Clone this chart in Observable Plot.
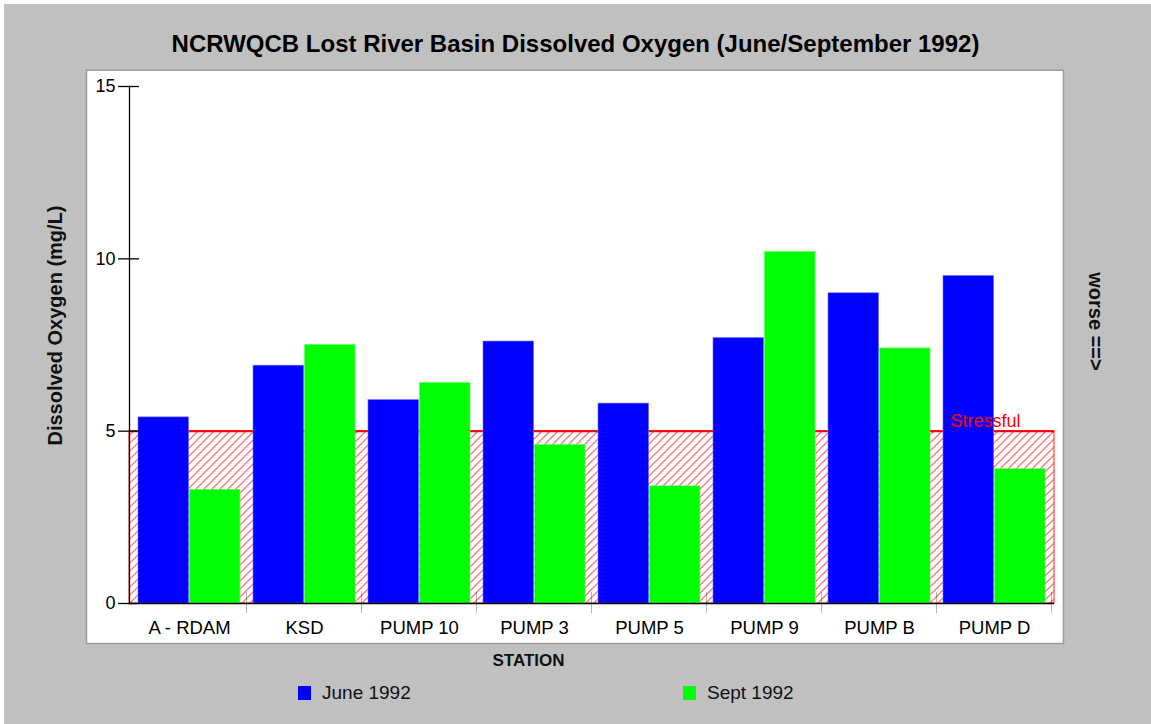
<!DOCTYPE html>
<html>
<head>
<meta charset="utf-8">
<script src="https://cdn.jsdelivr.net/npm/d3@7"></script>
<script src="https://cdn.jsdelivr.net/npm/@observablehq/plot@0.6"></script>
<style>
  html, body { margin: 0; padding: 0; background: #c0c0c0; }
  #wrap { position: relative; width: 1151px; height: 724px; overflow: hidden; background: #c0c0c0;
          font-family: "Liberation Sans", Arial, sans-serif; }
  #edgeTop { position: absolute; left: 0; top: 0; width: 1151px; height: 4px; background: #fff; }
  #edgeLeft { position: absolute; left: 0; top: 0; width: 4px; height: 724px; background: #fff; }
  #title { position: absolute; left: 0; top: 32px; width: 1151px; text-align: center;
           font-weight: bold; font-size: 24px; line-height: 24px; color: #000; }
  #chart { position: absolute; left: 0; top: 69px; }
  #legend { position: absolute; left: 298px; top: 681px; display: flex; }
  .item { width: 385px; display: flex; align-items: center; height: 24px; margin-top: 0px;
          font-size: 19px; color: #111; }
  .sw { width: 13px; height: 14px; margin-right: 11px; }
</style>
</head>
<body>
<div id="wrap">
  <div id="edgeTop"></div>
  <div id="edgeLeft"></div>
  <div id="title"></div>
  <div id="chart"></div>
  <div id="legend"></div>
</div>
<script>
// ---- data ----
const titleText = "NCRWQCB Lost River Basin Dissolved Oxygen (June/September 1992)";
const stations = ["A - RDAM", "KSD", "PUMP 10", "PUMP 3", "PUMP 5", "PUMP 9", "PUMP B", "PUMP D"];
const june1992 = [5.4, 6.9, 5.9, 7.6, 5.8, 7.7, 9.0, 9.5];
const sept1992 = [3.3, 7.5, 6.4, 4.6, 3.4, 10.2, 7.4, 3.9];
const seriesNames = ["June 1992", "Sept 1992"];
const seriesColors = ["#0000ff", "#00ff00"];
const yTicks = [0, 5, 10, 15];
const stressLevel = 5;
const stressLabel = "Stressful";
const yLabel = "Dissolved Oxygen (mg/L)";
const xLabel = "STATION";
const sideLabel = "worse ==>";

// ---- table ----
const rows = stations.flatMap((s, i) => [
  {station: s, series: seriesNames[0], value: june1992[i]},
  {station: s, series: seriesNames[1], value: sept1992[i]}
]);

// ---- layout ----
const W = 1151, H = 612;
const mL = 129, mR = 97, mT = 17, mB = 78;
const padIn = 0.11, padOut = 0.055;
const innerW = W - mL - mR;
const step = innerW / (stations.length - padIn + 2 * padOut);
const bw = step * (1 - padIn);
const gap = step - bw;

const plot = Plot.plot({
  width: W, height: H,
  marginLeft: mL, marginRight: mR, marginTop: mT, marginBottom: mB,
  style: {background: "none", fontFamily: "Liberation Sans, Arial, sans-serif", fontSize: "18px", color: "#000"},
  x: {type: "band", domain: stations, paddingInner: padIn, paddingOuter: padOut, axis: null},
  y: {domain: [0, 15], axis: null},
  color: {domain: seriesNames, range: seriesColors},
  marks: [
    // white panel
    Plot.frame({fill: "white", stroke: "#9a9a9a", strokeWidth: 1.5,
                insetLeft: -43, insetRight: -9, insetTop: -16.25, insetBottom: -40}),
    // stressful zone
    Plot.rect([stressLevel], {y1: 0, y2: d => d, fill: "url(#hatch)", stroke: "#ff2020", strokeWidth: 1}),
    Plot.ruleY([stressLevel], {stroke: "#ff0000", strokeWidth: 2}),
    // bars
    Plot.barY(rows.filter(d => d.series === seriesNames[0]),
      {x: "station", y: "value", fill: "series", insetRight: bw / 2, stroke: "#6a6aff", strokeWidth: 0.6}),
    Plot.barY(rows.filter(d => d.series === seriesNames[1]),
      {x: "station", y: "value", fill: "series", insetLeft: bw / 2, stroke: "#66ff66", strokeWidth: 0.6}),
    // axis lines
    Plot.ruleY([0], {stroke: "black", strokeWidth: 1.3}),
    Plot.frame({anchor: "left", stroke: "black", strokeWidth: 1.3}),
    // category boundary ticks
    Plot.barY(stations, {x: d => d, y1: 0, y2: 0, fill: "black",
      insetLeft: bw + gap / 2 - 0.6, insetRight: -gap / 2 - 0.6, insetTop: -11, insetBottom: -10}),
    // axes
    Plot.axisY({ticks: yTicks, tickSize: 21, dx: 10, tickPadding: 3, fontSize: 18, label: null,
      stroke: "black", strokeWidth: 1.3}),
    Plot.axisX({tickSize: 0, tickPadding: 17, fontSize: 18.5, label: null}),
    // labels
    Plot.text([stressLabel], {frameAnchor: "right", y: () => stressLevel, text: d => d, textAnchor: "start",
      lineAnchor: "bottom", dx: -104, dy: -4, fill: "#ff0000", fontSize: 18}),
    Plot.text([yLabel], {frameAnchor: "left", text: d => d, rotate: -90, textAnchor: "middle",
      dx: -74, dy: -19.5, fontWeight: "bold", fontSize: 20, fill: "#111"}),
    Plot.text([sideLabel], {frameAnchor: "right", text: d => d, rotate: 90, textAnchor: "middle",
      dx: 41, dy: -23.5, fontWeight: "bold", fontSize: 20, fill: "#111"}),
    Plot.text([xLabel], {frameAnchor: "bottom", text: d => d, textAnchor: "middle", dx: -63.5, dy: 62,
      fontWeight: "bold", fontSize: 17, fill: "#111"})
  ]
});

// hatch pattern
const ns = "http://www.w3.org/2000/svg";
const defs = document.createElementNS(ns, "defs");
defs.innerHTML = '<pattern id="hatch" patternUnits="userSpaceOnUse" width="8" height="8">' +
  '<path d="M-2,2 L2,-2 M0,8 L8,0 M6,10 L10,6" stroke="#ff5a5a" stroke-width="1.1" fill="none"/></pattern>';
plot.insertBefore(defs, plot.firstChild);

document.getElementById("chart").appendChild(plot);
document.getElementById("title").textContent = titleText;

// legend
const legend = document.getElementById("legend");
seriesNames.forEach((name, i) => {
  const item = document.createElement("div");
  item.className = "item";
  const sw = document.createElement("div");
  sw.className = "sw";
  sw.style.background = seriesColors[i];
  const label = document.createElement("span");
  label.textContent = name;
  item.appendChild(sw);
  item.appendChild(label);
  legend.appendChild(item);
});
</script>
</body>
</html>
